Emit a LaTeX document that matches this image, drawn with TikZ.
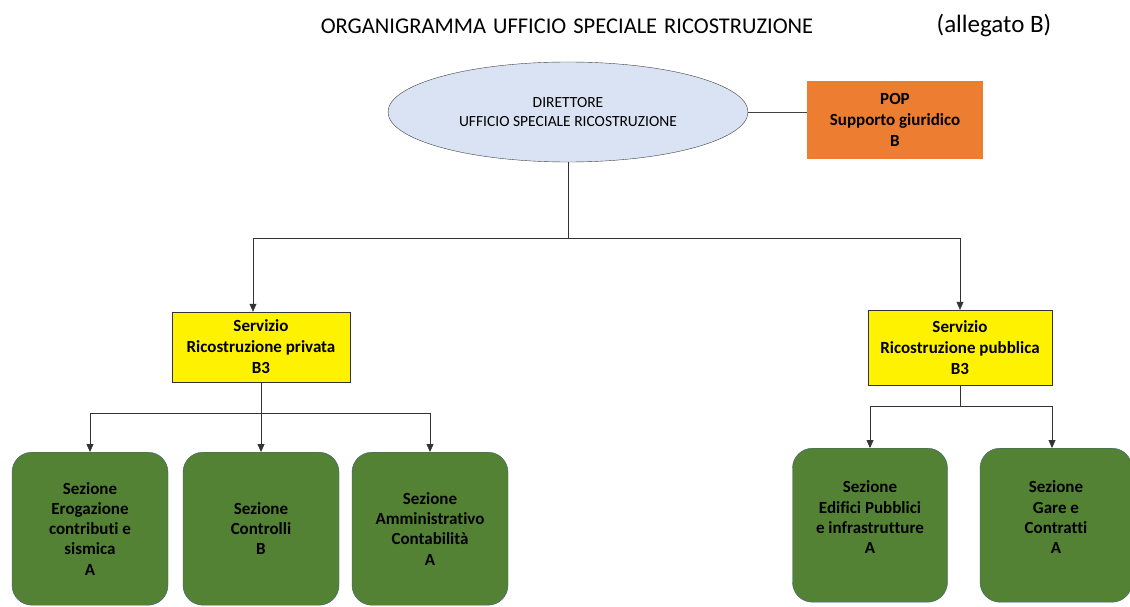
\documentclass[tikz,border=0pt]{standalone}
\usepackage{fontspec}
\setmainfont{Carlito}[Ligatures=NoCommon]
\usetikzlibrary{arrows.meta}
\usetikzlibrary{shapes.geometric}
\definecolor{direttore blue}{HTML}{DAE3F3}
\definecolor{pop orange}{HTML}{ED7D31}
\definecolor{sezione green}{HTML}{548235}
\definecolor{sezione edge}{HTML}{3F5F73}
\newcommand\titlefont{\fontsize{22.5}{26}\selectfont\spaceskip=7pt\relax}
\tikzset{
    direttore/.style={ellipse, draw=black!75, fill=direttore blue, inner sep=0pt,
        minimum width=360, minimum height=100, align=center,
        font=\fontsize{15.5}{19.5}\selectfont},
    pop box/.style={fill=pop orange, minimum width=176, minimum height=78, align=center,
        font=\bfseries\fontsize{17}{21}\selectfont},
    servizio box/.style={draw=black!80, fill=yellow, align=center, inner sep=0pt,
        minimum height=71, font=\bfseries\fontsize{17}{21}\selectfont},
    sezione box/.style={draw=sezione edge, fill=sezione green, rounded corners=20, align=center,
        anchor=north, minimum width=156, minimum height=153, inner sep=0pt,
        font=\bfseries\fontsize{17}{20.3}\selectfont},
    link/.style={draw=black!80, -{Triangle[length=8pt, width=7pt]}},
}

\begin{document}
\begin{tikzpicture}[x=1pt, y=-1pt]

    \useasboundingbox[fill=white] (0,0) rectangle (1130,607);

    \node[font=\titlefont] (T) at (567,26) {ORGANIGRAMMA UFFICIO SPECIALE RICOSTRUZIONE};
    \node[font=\fontsize{25}{28}\selectfont] (AB) at (994,26) {(allegato B)};

    \node[direttore] (DIR) at (568,112) {DIRETTORE\\UFFICIO SPECIALE RICOSTRUZIONE};
    \node[pop box] (POP) at (895,120) {POP\\Supporto giuridico\\B};

    \node[servizio box, minimum width=178, minimum height=70] (PRIV) at (261,347) {Servizio\\Ricostruzione privata\\B3};
    \node[servizio box, minimum width=184, minimum height=75] (PUBB) at (960,347.5) {Servizio\\Ricostruzione pubblica\\B3};

    \node[sezione box] (S1) at (90,452) {Sezione\\Erogazione\\contributi e\\sismica\\A};
    \node[sezione box] (S2) at (261,452) {Sezione\\Controlli\\B};
    \node[sezione box] (S3) at (430,452) {Sezione\\Amministrativo\\Contabilità\\A};
    \node[sezione box, minimum width=155, minimum height=154, text depth=16pt] (S4) at (870,448) {Sezione\\Edifici Pubblici\\e infrastrutture\\A};
    \node[sezione box, minimum width=152, minimum height=154, text depth=16pt] (S5) at (1056,448) {Sezione\\Gare e\\Contratti\\A};

    \draw[black!75] (DIR.east) -- (POP.west |- DIR.east);

    \draw[link] (DIR.south) -- ++(0,76) -| ([xshift=-8]PRIV.north);
    \draw[link] (DIR.south) -- ++(0,76) -| (PUBB.north);

    \draw[link] (PRIV.south) -- ++(0,31) -| (S1.north);
    \draw[link] (PRIV.south) -- (S2.north);
    \draw[link] (PRIV.south) -- ++(0,31) -| (S3.north);

    \draw[link] (PUBB.south) -- ++(0,21) -| (S4.north);
    \draw[link] (PUBB.south) -- ++(0,21) -| ([xshift=-4]S5.north);

\end{tikzpicture}
\end{document}
